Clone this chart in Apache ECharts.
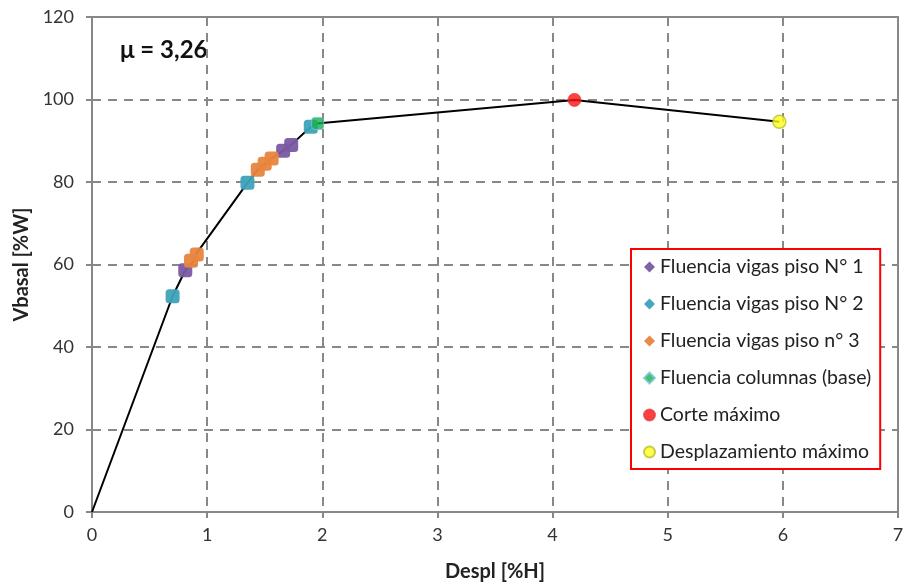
<!DOCTYPE html>
<html><head><meta charset="utf-8">
<script src="https://cdn.jsdelivr.net/npm/echarts@6/dist/echarts.min.js"></script>
<style>html,body{margin:0;padding:0;background:#fff}#c{width:908px;height:587px}</style>
</head><body><div id="c"></div>
<script>
// Pushover curve (Despl [%H], Vbasal [%W])
var curveX = [0, 0.70, 0.81, 0.88, 0.90, 1.35, 1.44, 1.50, 1.56, 1.66, 1.73, 1.90, 1.96, 2.00, 4.19, 5.97];
var curveY = [0, 52.3, 58.6, 60.7, 62.4, 79.8, 83.0, 84.4, 85.7, 87.6, 89.0, 93.4, 94.2, 94.3, 99.9, 94.6];
// Event markers
var vigas1 = [[0.81, 58.6], [1.66, 87.6], [1.73, 89.0]];
var vigas2 = [[0.70, 52.3], [1.35, 79.8], [1.90, 93.4]];
var vigas3 = [[0.86, 60.9], [0.91, 62.4], [1.44, 83.0], [1.50, 84.4], [1.56, 85.7]];
var columnas = [[1.96, 94.2]];
var corteMax = [[4.19, 99.9]];
var desplMax = [[5.97, 94.6]];
var xTicks = [0, 1, 2, 3, 4, 5, 6, 7];
var yTicks = [0, 20, 40, 60, 80, 100, 120];
var names = ['Fluencia vigas piso N° 1', 'Fluencia vigas piso N° 2', 'Fluencia vigas piso n° 3', 'Fluencia columnas (base)', 'Corte máximo', 'Desplazamiento máximo'];

var FONT = 'Lato, "Open Sans", sans-serif';
var curve = curveX.map(function (x, i) { return [x, curveY[i]]; });
var chart = echarts.init(document.getElementById('c'), null, {renderer: 'canvas'});
var sq = 'roundRect';
chart.setOption({
  animation: false,
  backgroundColor: '#fff',
  grid: {left: 92, right: 10, top: 17, bottom: 74, show: true, borderColor: '#878787', borderWidth: 2, backgroundColor: 'transparent'},
  xAxis: {
    type: 'value', min: xTicks[0], max: xTicks[xTicks.length - 1], interval: 1,
    name: 'Despl [%H]', nameLocation: 'middle', nameGap: 50,
    nameTextStyle: {fontFamily: FONT, fontWeight: 'bold', fontSize: 20, color: '#222'},
    axisLine: {lineStyle: {color: '#878787', width: 2}},
    axisTick: {show: true, length: 6, lineStyle: {color: '#878787', width: 2}},
    axisLabel: {fontFamily: FONT, fontSize: 18, color: '#333', margin: 14},
    splitLine: {show: true, lineStyle: {color: '#888', width: 2, type: [9, 7]}}
  },
  yAxis: {
    type: 'value', min: yTicks[0], max: yTicks[yTicks.length - 1], interval: 20,
    name: 'Vbasal [%W]', nameLocation: 'middle', nameGap: 60,
    nameTextStyle: {fontFamily: FONT, fontWeight: 'bold', fontSize: 20, color: '#222'},
    axisLine: {show: true, lineStyle: {color: '#878787', width: 2}},
    axisTick: {show: true, length: 6, lineStyle: {color: '#878787', width: 2}},
    axisLabel: {fontFamily: FONT, fontSize: 18, color: '#333', margin: 18},
    splitLine: {show: true, lineStyle: {color: '#888', width: 2, type: [9, 7]}}
  },
  legend: {
    orient: 'vertical', left: 631, top: 249,
    borderColor: '#ff0000', borderWidth: 2, backgroundColor: '#fff',
    padding: [8, 9, 7, 12], itemGap: 17, itemWidth: 11, itemHeight: 11,
    textStyle: {fontFamily: FONT, fontSize: 19.5, color: '#222', lineHeight: 19},
    data: [
      {name: names[0], icon: 'diamond'}, {name: names[1], icon: 'diamond'},
      {name: names[2], icon: 'diamond'}, {name: names[3], icon: 'diamond'},
      {name: names[4], icon: 'circle'}, {name: names[5], icon: 'circle'}
    ]
  },
  graphic: [{
    type: 'text', left: 120, top: 38,
    style: {text: 'μ = 3,26', font: 'bold 24px ' + FONT, fill: '#111'}
  }],
  series: [
    {type: 'line', name: 'curve', data: curve, showSymbol: false, symbol: 'none', lineStyle: {color: '#000', width: 2}, z: 2, silent: true},
    {type: 'scatter', name: names[0], data: vigas1, symbol: sq, symbolSize: 14, itemStyle: {color: '#7a5aa4', opacity: 0.95}, z: 3},
    {type: 'scatter', name: names[1], data: vigas2, symbol: sq, symbolSize: 14, itemStyle: {color: '#3fa2b9', opacity: 0.95}, z: 3},
    {type: 'scatter', name: names[2], data: vigas3, symbol: sq, symbolSize: 14, itemStyle: {color: '#e8853e', opacity: 0.95}, z: 3},
    {type: 'scatter', name: names[3], data: columnas, symbol: sq, symbolSize: 12, itemStyle: {color: '#14b050', borderColor: '#7fc4d6', borderWidth: 1}, z: 4},
    {type: 'scatter', name: names[4], data: corteMax, symbol: 'circle', symbolSize: 13, itemStyle: {color: '#ff1010', borderColor: '#e04040', borderWidth: 1}, z: 4},
    {type: 'scatter', name: names[5], data: desplMax, symbol: 'circle', symbolSize: 13, itemStyle: {color: '#ffff1a', borderColor: '#b8c030', borderWidth: 1.5}, z: 4}
  ]
});
</script></body></html>
